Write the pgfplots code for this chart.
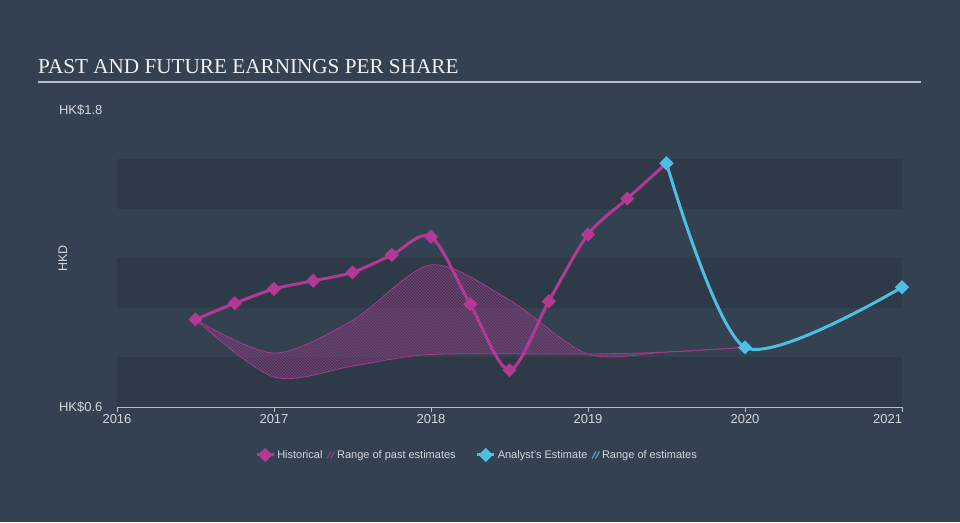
\documentclass[border=0pt]{standalone}
\usepackage{fontspec}
\setmainfont{Liberation Sans}
\newfontfamily\titlefont{Liberation Serif}
\usepackage{pgfplots}
\pgfplotsset{compat=1.18}
\usepgfplotslibrary{fillbetween}
\usetikzlibrary{patterns}
\definecolor{bg}{HTML}{344150}
\definecolor{band}{HTML}{2E3A48}
\definecolor{mag}{HTML}{B23A95}
\definecolor{cy}{HTML}{4CBFE2}
\definecolor{txt}{HTML}{D3D7DC}
\definecolor{axisgray}{HTML}{B8BEC6}
\pagecolor{bg}

\begin{document}
\begin{tikzpicture}[x=1pt,y=1pt]
\node[anchor=base west, inner sep=0, text=white!92!bg, font=\titlefont\fontsize{21.2}{25}\selectfont] at (38,448) {PAST AND FUTURE EARNINGS PER SHARE};
\draw[axisgray, line width=1.5pt] (38,440) -- (921,440);
\begin{axis}[
    at={(117pt,115pt)}, anchor=south west,
    scale only axis, width=785pt, height=297pt,
    xmin=2016, xmax=2021, ymin=0.6, ymax=1.8,
    set layers, axis on top,
    axis x line*=bottom, axis y line*=left,
    y axis line style={draw=none},
    x axis line style={axisgray, line width=1pt},
    xtick={2016,2017,2018,2019,2020,2021},
    xticklabels={2016,2017,2018,2019,2020,\hbox to 0pt{\hss 2021}},
    ytick={0.6,1.8},
    yticklabels={HK\$0.6,HK\$1.8},
    tick align=outside,
    major tick length=5pt,
    xtick style={axisgray, line width=1pt},
    ytick style={draw=none},
    tick label style={text=txt, font=\fontsize{13}{15}\selectfont},
    xticklabel style={yshift=1pt},
    yticklabel style={xshift=-6pt},
    ylabel={HKD},
    ylabel style={at={(axis description cs:-0.069,0.5)}, anchor=center, text=txt, font=\fontsize{12.5}{15}\selectfont},
    legend columns=4,
    legend style={at={(0.4586,-0.1616)}, anchor=center, draw=none, fill=none,
        text=txt, font=\fontsize{11}{13}\selectfont,
        /tikz/column 2/.style={column sep=2pt},
        /tikz/column 4/.style={column sep=18pt},
        /tikz/column 6/.style={column sep=2pt}},
]
% background bands
\begin{pgfonlayer}{axis background}
\fill[band] (axis cs:2016,0.6) rectangle (axis cs:2021,0.8);
\fill[band] (axis cs:2016,1.0) rectangle (axis cs:2021,1.2);
\fill[band] (axis cs:2016,1.4) rectangle (axis cs:2021,1.6);
\end{pgfonlayer}

% legend images
\addlegendimage{mag, line width=3pt, mark=square*, mark size=3.5pt, mark options={rotate=45}}
\addlegendentry{Historical}
\addlegendimage{legend image code/.code={
    \draw[mag!85!bg, line width=1.1pt] (0pt,-3.5pt) -- (4pt,3.5pt) (3.5pt,-3.5pt) -- (7.5pt,3.5pt);}}
\addlegendentry{Range of past estimates}
\addlegendimage{cy, line width=3pt, mark=square*, mark size=3.5pt, mark options={rotate=45}}
\addlegendentry{Analyst's Estimate}
\addlegendimage{legend image code/.code={
    \draw[cy!85!bg, line width=1.1pt] (0pt,-3.5pt) -- (4pt,3.5pt) (3.5pt,-3.5pt) -- (7.5pt,3.5pt);}}
\addlegendentry{Range of estimates}

% range of past estimates
\addplot[name path=up, mag!85!bg, line width=0.8pt, smooth, forget plot] coordinates {
    (2016.5,0.954) (2017,0.818) (2017.5,0.95) (2018,1.174) (2018.5,1.032)
    (2019,0.814) (2019.5,0.822) (2020,0.841)
};
\addplot[name path=lo, mag!85!bg, line width=0.8pt, smooth, forget plot] coordinates {
    (2016.5,0.954) (2017,0.721) (2017.5,0.765) (2018,0.812) (2019,0.814)
    (2019.5,0.822) (2020,0.841)
};
\addplot[fill=mag, fill opacity=0.15, draw=none, forget plot]
    fill between[of=up and lo];
\addplot[pattern=north west lines, pattern color=mag!75!bg, draw=none, forget plot]
    fill between[of=up and lo];

% historical
\addplot[mag, line width=3pt, smooth, mark=square*, mark size=3.5pt, mark options={rotate=45}, forget plot] coordinates {
    (2016.5,0.954) (2016.75,1.019) (2017,1.077) (2017.25,1.110) (2017.5,1.144)
    (2017.75,1.214) (2018,1.288) (2018.25,1.015) (2018.5,0.749) (2018.75,1.027)
    (2019,1.297) (2019.25,1.442) (2019.5,1.585)
};

% analyst estimate
\addplot[cy, line width=3pt, smooth, tension=0.45, mark=square*, mark size=3.5pt, mark options={rotate=45}, forget plot] coordinates {
    (2019.5,1.585) (2020,0.841) (2021,1.084)
};
\end{axis}
\pgfresetboundingbox
\path (0,0) rectangle (960,522);
\end{tikzpicture}%
\end{document}
